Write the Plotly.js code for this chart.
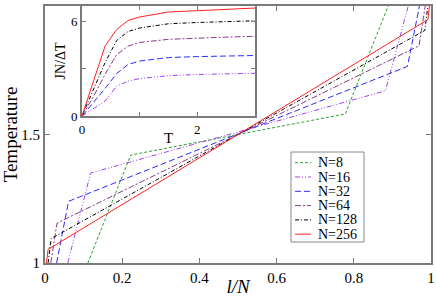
<!DOCTYPE html>
<html>
<head>
<meta charset="utf-8">
<script src="https://cdn.plot.ly/plotly-3.0.1.min.js"></script>
<style>html,body{margin:0;padding:0;background:#fff}#chart{width:436px;height:297px}</style>
</head>
<body>
<div id="chart"></div>
<script>
// ---- Main panel: temperature profiles T vs l/N ----
var seriesNames = ["N=8", "N=16", "N=32", "N=64", "N=128", "N=256"];
var x_N8   = [0.111, 0.222, 0.778, 0.889];
var T_N8   = [1.0, 1.42, 1.58, 2.0];
var x_N16  = [0.059, 0.118, 0.882, 0.941];
var T_N16  = [1.0, 1.35, 1.67, 2.0];
var x_N32  = [0.030, 0.061, 0.939, 0.970];
var T_N32  = [1.0, 1.24, 1.765, 2.0];
var x_N64  = [0.015, 0.031, 0.969, 0.985];
var T_N64  = [1.0, 1.155, 1.845, 2.0];
var x_N128 = [0.008, 0.016, 0.984, 0.992];
var T_N128 = [1.0, 1.095, 1.905, 2.0];
var x_N256 = [0.004, 0.008, 0.992, 0.996];
var T_N256 = [1.0, 1.053, 1.947, 2.0];

// ---- Inset: JN/ΔT vs T ----
var insetT = [0, 0.2, 0.4, 0.6, 0.8, 1.0, 1.5, 2.0, 2.5, 3.0];
var J_N16  = [0, 0.45, 0.95, 1.9, 2.22, 2.38, 2.57, 2.64, 2.68, 2.72];
var J_N32  = [0, 0.85, 1.75, 2.7, 3.28, 3.5, 3.72, 3.78, 3.82, 3.85];
var J_N64  = [0, 1.25, 2.65, 3.9, 4.45, 4.68, 4.88, 4.96, 5.02, 5.07];
var J_N128 = [0, 1.7, 3.4, 4.8, 5.38, 5.6, 5.87, 5.95, 6.0, 6.06];
var J_N256 = [0, 2.3, 4.45, 5.5, 6.08, 6.3, 6.62, 6.7, 6.78, 6.87];

var mainX = [x_N8, x_N16, x_N32, x_N64, x_N128, x_N256];
var mainY = [T_N8, T_N16, T_N32, T_N64, T_N128, T_N256];
var insetY = [null, J_N16, J_N32, J_N64, J_N128, J_N256];

var colors = ["#2ca02c", "#a040f0", "#2a2aff", "#8a3a8a", "#000000", "#ff2020"];
var dashes = ["3px,2px", "5px,2px,1px,2px,1px,2px", "6px,3px", "6px,2px,2px,2px", "4px,2px,1px,2px", "solid"];

var traces = [];
for (var i = 0; i < seriesNames.length; i++) {
  traces.push({
    x: mainX[i], y: mainY[i], type: "scatter", mode: "lines",
    name: seriesNames[i], xaxis: "x", yaxis: "y", showlegend: false,
    line: {color: colors[i], width: 1, dash: dashes[i]}
  });
}
for (var j = 0; j < seriesNames.length; j++) {
  if (!insetY[j]) continue;
  traces.push({
    x: insetT, y: insetY[j], type: "scatter", mode: "lines",
    name: seriesNames[j], xaxis: "x2", yaxis: "y2", showlegend: false,
    line: {color: colors[j], width: 1, dash: dashes[j]}
  });
}

// plot area in pixels (for placing the hand-drawn legend box)
var PL = 45, PR = 431, PT = 6, PB = 263;
function px(x) { return (x - PL) / (PR - PL); }
function py(y) { return (PB - y) / (PB - PT); }

var shapes = [{type: "rect", xref: "paper", yref: "paper",
  x0: px(291), x1: px(364), y0: py(242), y1: py(152),
  fillcolor: "#fff", line: {color: "#888", width: 1}, layer: "above"}];
var annotations = [];
for (var k = 0; k < seriesNames.length; k++) {
  var cy = 162.7 + 14.3 * k;
  shapes.push({type: "line", xref: "paper", yref: "paper",
    x0: px(295), x1: px(311), y0: py(cy), y1: py(cy), layer: "above",
    line: {color: colors[k], width: 1, dash: dashes[k]}});
  annotations.push({xref: "paper", yref: "paper", x: px(317), y: py(cy),
    xanchor: "left", yanchor: "middle", showarrow: false, text: seriesNames[k],
    borderpad: 0, font: {size: 14}});
}
// inset x-axis title
annotations.push({xref: "paper", yref: "paper", x: px(168), y: py(138),
  xanchor: "center", yanchor: "middle", showarrow: false, text: "T",
  borderpad: 0, font: {size: 15}});

var serif = "'Liberation Serif', 'DejaVu Serif', serif";
var axCol = "#7a7a7a";
var layout = {
  width: 436, height: 297,
  margin: {l: 45, r: 5, t: 6, b: 34},
  paper_bgcolor: "#fff", plot_bgcolor: "#fff",
  font: {family: serif, color: "#000", size: 15},
  showlegend: false,
  shapes: shapes, annotations: annotations,
  xaxis: {domain: [0, 1], range: [0, 1], tickvals: [0, 0.2, 0.4, 0.6, 0.8, 1],
          ticktext: ["0", "0.2", "0.4", "0.6", "0.8", "1"],
          ticks: "inside", ticklen: 5, tickcolor: axCol, tickwidth: 1,
          showline: true, linecolor: axCol, linewidth: 2, mirror: "ticks",
          showgrid: false, zeroline: false, tickfont: {family: serif, size: 15},
          title: {text: "<i>l/N</i>", font: {family: serif, size: 19}, standoff: 8}},
  yaxis: {domain: [0, 1], range: [1, 2], tickvals: [1, 1.5, 2],
          ticktext: ["1", "1.5", "2"],
          ticks: "inside", ticklen: 5, tickcolor: axCol, tickwidth: 1,
          showline: true, linecolor: axCol, linewidth: 2, mirror: "ticks",
          showgrid: false, zeroline: false, tickfont: {family: serif, size: 15},
          title: {text: "Temperature", font: {family: serif, size: 19}, standoff: 4}},
  xaxis2: {domain: [0.0959, 0.544], range: [0, 3], anchor: "y2",
           tickvals: [0, 1, 2, 3], ticktext: ["0", "", "2", ""],
           ticks: "inside", ticklen: 4, tickcolor: axCol, tickwidth: 1,
           showline: true, linecolor: axCol, linewidth: 2, mirror: "ticks",
           showgrid: false, zeroline: false, tickfont: {family: serif, size: 13}},
  yaxis2: {domain: [0.572, 1], range: [0, 7], anchor: "x2",
           tickvals: [0, 3, 6], ticktext: ["0", "", "6"],
           ticks: "inside", ticklen: 4, tickcolor: axCol, tickwidth: 1,
           showline: true, linecolor: axCol, linewidth: 2, mirror: "ticks",
           showgrid: false, zeroline: false, tickfont: {family: serif, size: 13},
           title: {text: "JN/ΔT", font: {family: serif, size: 14}, standoff: 2}}
};

Plotly.newPlot("chart", traces, layout, {staticPlot: true, displayModeBar: false});
</script>
</body>
</html>
